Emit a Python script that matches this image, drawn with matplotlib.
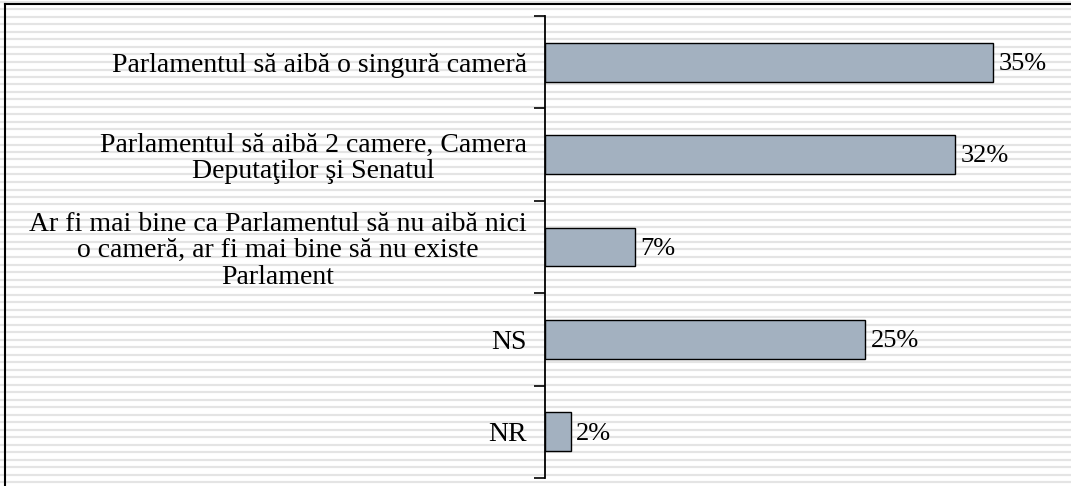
import matplotlib.pyplot as plt
import numpy as np
from matplotlib.lines import Line2D

# data
categories = [
    'Parlamentul să aibă o singură cameră',
    'Parlamentul să aibă 2 camere, Camera\nDeputaţilor şi Senatul',
    'Ar fi mai bine ca Parlamentul să nu aibă nici\no cameră, ar fi mai bine să nu existe\nParlament',
    'NS',
    'NR',
]
values = [35, 32, 7, 25, 2]
value_labels = ['35%', '32%', '7%', '25%', '2%']

plt.rcParams['font.family'] = ['Liberation Serif', 'DejaVu Serif']

W, H = 1071, 486
fig = plt.figure(figsize=(W / 100, H / 100), dpi=100)
fig.patch.set_facecolor('white')

# striped background
for yp in np.arange(2, H, 7.5):
    fig.add_artist(Line2D([0, 1], [1 - yp / H, 1 - yp / H], transform=fig.transFigure,
                          color='#e4e4e4', lw=1.6, zorder=0))
# frame: top and left only
fig.add_artist(Line2D([5 / W, 1], [1 - 4 / H, 1 - 4 / H], transform=fig.transFigure,
                      color='black', lw=1.5, zorder=1))
fig.add_artist(Line2D([5 / W, 5 / W], [0, 1 - 4 / H], transform=fig.transFigure,
                      color='black', lw=1.5, zorder=1))

left = 545 / W
ax = fig.add_axes([left, 8 / H, 1057 / W - left, 462 / H])
ax.patch.set_alpha(0)

y = np.arange(len(categories))
ax.barh(y, values, height=0.42, color='#a3b1c0', edgecolor='black', linewidth=1.0, zorder=3)
for yi, v, lab in zip(y, values, value_labels):
    ax.text(v + 0.45, yi + 0.02, lab, va='center', ha='left', fontsize=19)

ax.set_xlim(0, 40)
ax.set_ylim(len(categories) - 0.5, -0.5)
ax.set_xticks([])
ax.set_yticks(y)
ax.set_yticklabels(categories, fontsize=20, ha='right', multialignment='center',
                   linespacing=1.08)
ax.tick_params(axis='y', which='major', length=0, pad=13)
ax.set_yticks(np.arange(-0.5, len(categories)), minor=True)
ax.tick_params(axis='y', which='minor', length=8, width=1.2, direction='out')
for s in ['top', 'right', 'bottom']:
    ax.spines[s].set_visible(False)
ax.spines['left'].set_linewidth(1.3)

fig.savefig('out.png', dpi=100)
